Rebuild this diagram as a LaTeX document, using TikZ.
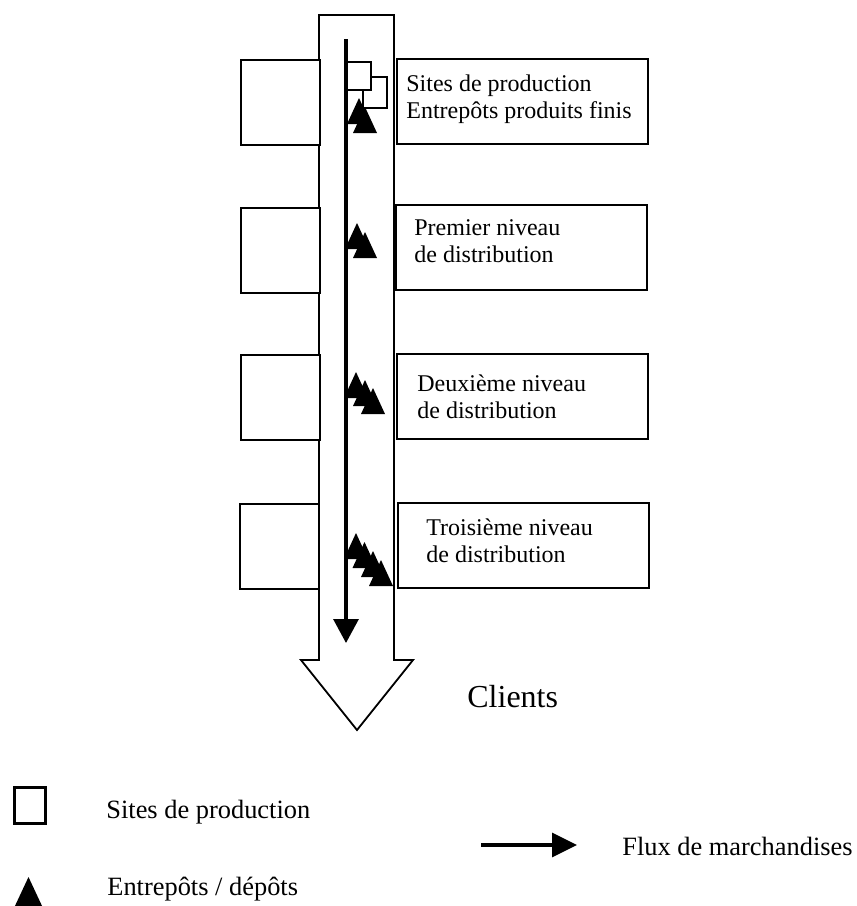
\documentclass[tikz,border=0pt]{standalone}
\usepackage{fontspec}
\setmainfont{Liberation Serif}
\usetikzlibrary{arrows.meta}

\tikzset{
  box/.style={draw, line width=0.9pt, fill=white, inner sep=0pt, anchor=north west},
  lbox/.style={box, minimum width=39.5pt, minimum height=42.5pt},
  rbox/.style={box, minimum width=125.5pt, minimum height=42.5pt},
  site/.style={box, minimum width=12pt},
  label/.style={anchor=base west, inner sep=0pt, align=left, font=\fontsize{12}{13.5}\selectfont},
  legend/.style={anchor=base west, inner sep=0pt, font=\fontsize{13.2}{15}\selectfont},
  flow/.style={line width=1.6pt, -{Triangle[length=12pt, width=12.5pt]}},
  depot/.pic={\fill (-12,26) -- (0,0) -- (12,26) -- cycle;}
}

\begin{document}
\begin{tikzpicture}[x=0.5pt, y=-0.5pt]
  \useasboundingbox (0,0) rectangle (857,906);

  % wide hollow arrow towards the customers
  \draw[line width=0.9pt, fill=white]
    (319,15) -- (394,15) -- (394,660) -- (413,660) -- (357,730)
    -- (301,660) -- (319,660) -- cycle;

  % empty boxes on the left
  \node[lbox] (p1) at (240,59)  {};
  \node[lbox] (p2) at (240,207) {};
  \node[lbox] (p3) at (240,354) {};
  \node[lbox] (p4) at (239,503) {};

  % level boxes on the right
  \node[rbox] (n1) at (396,58)  {};
  \node[rbox] (n2) at (395,204) {};
  \node[rbox] (n3) at (396,353) {};
  \node[rbox] (n4) at (397,502) {};

  % production sites of the first level
  \node[site, minimum height=15.5pt] (s2) at (362,76) {};
  \node[site, minimum height=14pt]   (s1) at (346,61) {};

  % flow of goods
  \coordinate (fs) at (346,39);
  \coordinate (fe) at (346,643);
  \draw[flow] (fs) -- (fe);

  % warehouses
  \pic at (359,98)  {depot};
  \pic at (365,107) {depot};

  \pic at (357,223) {depot};
  \pic at (365,232) {depot};

  \pic at (356,372) {depot};
  \pic at (365,380) {depot};
  \pic at (373,388) {depot};

  \pic at (356,533) {depot};
  \pic at (364.5,542) {depot};
  \pic at (373,551) {depot};
  \pic at (381,560) {depot};

  % level labels (anchored on the baseline of their last line)
  \node[label] (t1) at (406,118) {Sites de production\\Entrepôts produits finis};
  \node[label] (t2) at (414,262) {Premier niveau\\de distribution};
  \node[label] (t3) at (417,418) {Deuxième niveau\\de distribution};
  \node[label] (t4) at (426,562) {Troisième niveau\\de distribution};

  \node[anchor=base west, inner sep=0pt, font=\fontsize{16}{19}\selectfont] (cl) at (467,707) {Clients};

  % legend
  \node[draw, line width=1.5pt, inner sep=0pt, minimum width=15.5pt, minimum height=18pt, anchor=north west] (ls) at (13,786) {};
  \node[legend] (lst) at (106,818) {Sites de production};

  \fill (14,908) -- (28.5,877) -- (43,908) -- cycle;
  \node[legend] (ldt) at (107,895) {Entrepôts / dépôts};

  \coordinate (la) at (481,845);
  \coordinate (lb) at (577,845);
  \draw[line width=1.6pt, -{Triangle[length=12.5pt, width=12pt]}] (la) -- (lb);
  \node[legend] (lft) at (622,855) {Flux de marchandises};
\end{tikzpicture}
\end{document}
